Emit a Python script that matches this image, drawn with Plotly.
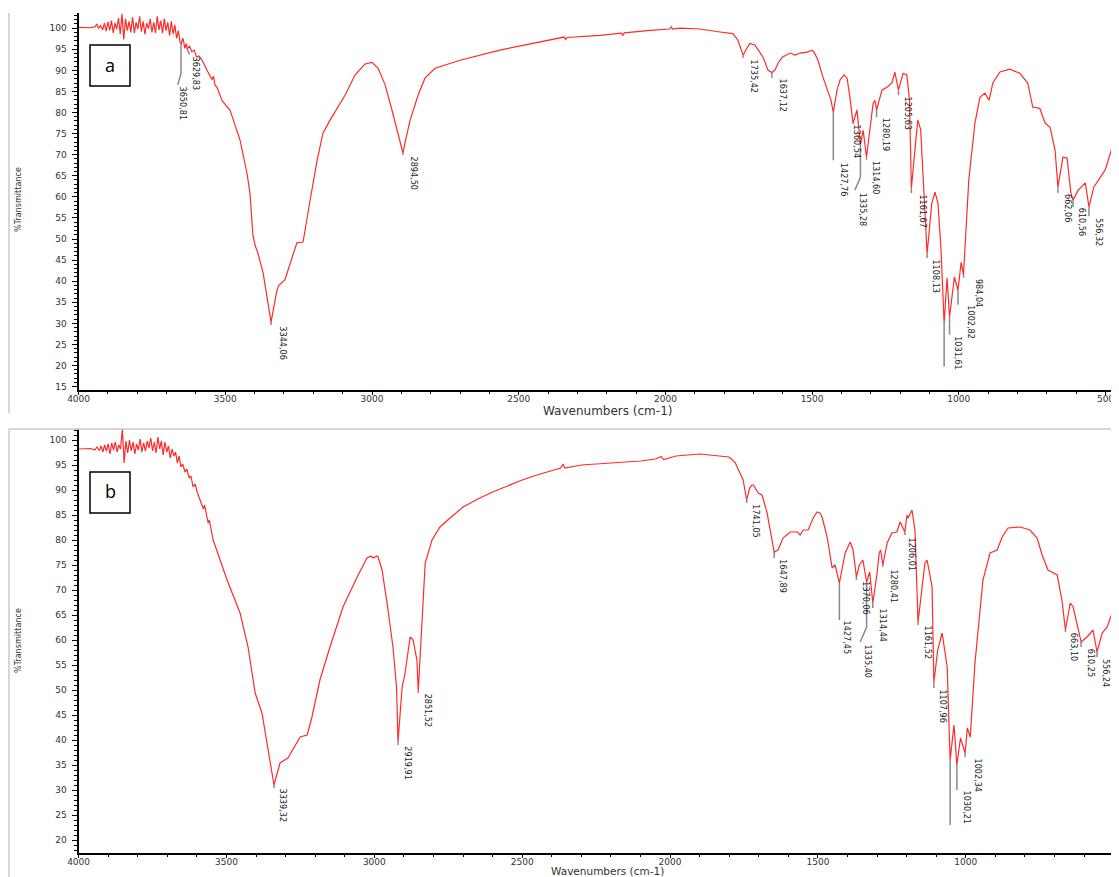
import plotly.graph_objects as go

# ---------------- data: spectrum (a) ----------------
a_wn = [4000, 3980, 3960, 3945, 3938, 3932, 3925, 3918, 3912, 3906, 3900, 3894, 3888, 3882, 3876, 3870,
        3864, 3858, 3852, 3846, 3840, 3834, 3828, 3822, 3816, 3810, 3804, 3798, 3792, 3786, 3780, 3774,
        3768, 3762, 3756, 3750, 3744, 3738, 3732, 3726, 3720, 3714, 3708, 3702, 3696, 3690, 3684, 3678,
        3672, 3666, 3660, 3654, 3650.81, 3644, 3638, 3633, 3629.83, 3622, 3614, 3606, 3598, 3590, 3579,
        3559, 3545, 3540, 3535, 3528, 3511, 3484, 3450, 3426, 3416, 3406, 3398, 3389, 3371, 3344.06, 3324,
        3317, 3297, 3256, 3235, 3211, 3187, 3167, 3143, 3092, 3058, 3024, 3000, 2979, 2955, 2932, 2911,
        2894.5, 2884, 2870, 2843, 2819, 2785, 2700, 2564, 2393, 2345, 2340, 2335, 2223, 2150, 2145, 2140,
        2052, 1985, 1980, 1975, 1950, 1882, 1814, 1770, 1753, 1735.42, 1722, 1712, 1695, 1684, 1667, 1650,
        1637.12, 1627, 1616, 1602, 1575, 1558, 1541, 1517, 1500, 1493, 1480, 1463, 1446, 1436, 1427.76,
        1415, 1405, 1391, 1381, 1371, 1360.54, 1347, 1335.28, 1326, 1314.60, 1298, 1292, 1286, 1280.19,
        1262, 1245, 1228, 1218, 1205.63, 1190, 1177, 1168, 1161.67, 1150, 1140, 1130, 1122, 1108.13, 1092,
        1081, 1071, 1061, 1050, 1040, 1031.61, 1015, 1002.82, 992, 984.04, 966, 945, 928, 911, 897, 884,
        860, 826, 792, 765, 748, 724, 706, 689, 672, 662.06, 645, 631, 618, 610.56, 593, 569, 556.32, 540,
        518, 501, 477, 460, 454]
a_T = [100.2, 100.2, 100.1, 100.3, 100.9, 100.0, 100.6, 99.6, 101.2, 99.3, 101.5, 99.5, 101.8, 98.9, 101.2, 99.8,
       102.4, 98.6, 103.4, 97.3, 102.2, 99.4, 101.6, 99.0, 102.6, 98.8, 101.4, 99.8, 102.8, 99.2, 101.6, 98.6,
       101.2, 99.9, 102.2, 99.0, 101.4, 98.9, 102.8, 99.6, 101.8, 98.8, 102.2, 99.4, 101.4, 98.2, 101.6, 98.6,
       100.8, 97.6, 99.4, 96.6, 96.4, 97.6, 95.2, 96.4, 95.0, 95.8, 94.4, 94.8, 93.2, 93.4, 92.4,
       89.6, 87.8, 88.6, 86.5, 86.0, 82.8, 80.6, 73.5, 65.6, 60.9, 51.0, 48.4, 46.7, 41.9, 30.3, 37.9,
       39.1, 40.3, 49.1, 49.3, 59.2, 68.7, 75.1, 78.2, 84.1, 88.9, 91.5, 91.9, 90.5, 86.5, 80.6, 74.6,
       70.4, 73.9, 78.2, 84.1, 88.2, 90.5, 92.4, 94.8, 97.2, 97.9, 97.3, 97.8, 98.3, 98.8, 98.3, 98.9,
       99.5, 99.8, 100.3, 99.8, 100.0, 99.8, 99.1, 98.7, 97.2, 93.6, 95.3, 96.4, 96.0, 94.8, 93.1, 90.0,
       89.5, 90.0, 91.7, 93.1, 94.1, 93.6, 94.1, 94.3, 94.8, 94.3, 92.4, 88.4, 84.8, 83.0, 80.1,
       85.3, 87.7, 88.9, 88.2, 83.6, 77.5, 80.6, 72.3, 75.8, 69.4, 79.0, 82.2, 82.9, 80.6,
       85.3, 86.0, 87.0, 89.6, 85.3, 89.3, 88.9, 82.9, 62.0, 70.4, 78.2, 76.0, 64.0, 46.5, 58.5,
       61.1, 58.5, 48.0, 30.1, 40.8, 31.5, 41.0, 37.9, 44.5, 41.5, 64.0, 77.5, 83.6, 84.6, 82.9, 87.0,
       89.6, 90.3, 89.3, 87.0, 81.3, 81.0, 77.5, 76.5, 71.1, 62.3, 69.4, 69.2, 60.9, 59.2, 61.6, 63.3, 57.6, 62.3,
       64.7, 66.4, 71.8, 75.1, 74.2]

# ---------------- data: spectrum (b) ----------------
b_wn = [4000, 3980, 3960, 3945, 3938, 3930, 3924, 3918, 3912, 3906, 3900, 3894, 3888, 3882, 3876, 3870,
        3864, 3858, 3852, 3846, 3840, 3834, 3828, 3822, 3816, 3810, 3804, 3798, 3792, 3786, 3780, 3774,
        3768, 3762, 3756, 3750, 3744, 3738, 3732, 3726, 3720, 3714, 3708, 3702, 3696, 3690, 3684, 3678,
        3672, 3666, 3660, 3654, 3648, 3640, 3634, 3626, 3620, 3613, 3606, 3598, 3589, 3578, 3574, 3562,
        3558, 3545, 3498, 3454, 3427, 3403, 3380, 3363, 3339.32, 3319, 3292, 3251, 3227, 3211, 3184, 3150,
        3106, 3058, 3025, 3012, 3004, 2992, 2987, 2974, 2957, 2937, 2925, 2919.91, 2906, 2896, 2879, 2869,
        2856, 2851.52, 2839, 2828, 2805, 2778, 2744, 2700, 2650, 2600, 2550, 2500, 2450, 2400, 2370, 2362,
        2356, 2300, 2200, 2100, 2050, 2030, 2022, 1980, 1900, 1850, 1800, 1780, 1765, 1753, 1741.05, 1730,
        1723, 1718, 1702, 1689, 1672, 1662, 1652, 1647.89, 1635, 1618, 1594, 1570, 1560, 1550, 1533, 1516,
        1503, 1493, 1486, 1469, 1452, 1442, 1427.45, 1408, 1391, 1381, 1370.06, 1360, 1348, 1335.40, 1325,
        1314.44, 1300, 1293, 1288, 1280.41, 1266, 1250, 1233, 1222, 1206.01, 1199, 1195, 1182, 1172, 1166,
        1161.52, 1145, 1138, 1131, 1114, 1107.96, 1095, 1080, 1063, 1053, 1040, 1030.21, 1018, 1002.34, 995,
        985, 969, 942, 918, 894, 877, 857, 816, 783, 759, 742, 722, 691, 675, 663.10, 647, 637, 610.25,
        590, 570, 556.24, 539, 522, 505, 482]
b_T = [98.2, 98.2, 98.3, 98.0, 98.6, 97.9, 98.8, 97.6, 99.0, 97.8, 99.2, 97.2, 99.4, 98.0, 99.6, 97.6,
       99.0, 98.2, 102.2, 95.4, 99.8, 97.4, 100.0, 97.8, 99.6, 97.2, 99.2, 98.0, 100.2, 97.6, 99.4, 97.8,
       99.8, 98.4, 100.4, 97.8, 99.6, 97.4, 100.6, 98.2, 99.8, 97.0, 99.6, 97.6, 98.8, 96.4, 98.2, 96.8,
       97.6, 95.4, 96.8, 94.6, 95.2, 93.6, 94.2, 92.4, 92.8, 90.6, 91.2, 89.4, 88.0, 86.2, 87.0, 83.4,
       84.0, 80.0, 72.0, 65.4, 58.6, 49.4, 45.4, 39.4, 31.0, 35.4, 36.4, 40.6, 41.0, 44.6, 52.0, 58.6,
       66.6, 72.6, 76.4, 76.8, 76.4, 76.8, 76.6, 74.0, 67.4, 58.6, 50.6, 39.6, 50.6, 53.4, 60.6, 60.0,
       56.0, 49.8, 64.0, 75.4, 80.0, 82.6, 84.4, 86.6, 88.2, 89.6, 90.8, 92.0, 93.0, 93.8, 94.4, 95.2,
       94.4, 95.0, 95.4, 95.8, 96.2, 96.7, 96.1, 96.8, 97.2, 96.9, 96.6, 95.5, 93.5, 92.0, 88.0, 90.5,
       91.0, 91.0, 89.4, 89.0, 85.4, 82.0, 78.6, 77.6, 78.0, 80.4, 81.6, 81.6, 81.0, 82.0, 82.0, 84.4,
       85.6, 85.4, 84.6, 80.6, 74.4, 75.0, 71.4, 77.4, 79.6, 78.0, 72.6, 75.0, 76.0, 71.6, 73.6,
       67.4, 73.4, 77.4, 78.0, 75.0, 79.4, 81.4, 81.6, 83.6, 81.6, 85.0, 84.4, 86.0, 82.0, 72.0,
       63.6, 72.0, 75.4, 76.0, 70.6, 51.5, 58.0, 61.4, 54.6, 36.0, 43.0, 35.0, 40.4, 37.4, 42.4,
       40.6, 55.4, 72.0, 77.4, 78.0, 80.6, 82.4, 82.6, 82.0, 80.4, 77.0, 74.0, 73.0, 68.0, 62.0, 67.4, 66.6, 59.6,
       60.6, 62.0, 57.6, 61.4, 62.6, 65.4, 69.4]

# ---------------- peak labels ----------------
a_peak_label = ["3650,81", "3629,83", "3344,06", "2894,50", "1735,42", "1637,12", "1427,76", "1360,54",
                "1335,28", "1314,60", "1280,19", "1205,63", "1161,67", "1108,13", "", "1031,61",
                "1002,82", "984,04", "662,06", "610,56", "556,32"]
a_peak_wn = [3650.81, 3629.83, 3344.06, 2894.50, 1735.42, 1637.12, 1427.76, 1360.54, 1335.28, 1314.60,
             1280.19, 1205.63, 1161.67, 1108.13, 1050, 1031.61, 1002.82, 984.04, 662.06, 610.56, 556.32]
a_peak_T = [96.4, 95.0, 30.3, 70.4, 93.6, 89.5, 80.1, 77.5, 72.3, 69.4, 80.6, 85.3, 62.0, 46.5, 30.1, 31.5,
            37.9, 41.5, 62.3, 59.2, 57.6]

b_peak_label = ["3339,32", "2919,91", "2851,52", "1741,05", "1647,89", "1427,45", "1370,06", "1335,40",
                "1314,44", "1280,41", "1206,01", "1161,52", "1107,96", "", "1030,21", "1002,34",
                "663,10", "610,25", "556,24"]
b_peak_wn = [3339.32, 2919.91, 2851.52, 1741.05, 1647.89, 1427.45, 1370.06, 1335.40, 1314.44, 1280.41,
             1206.01, 1161.52, 1107.96, 1053, 1030.21, 1002.34, 663.10, 610.25, 556.24]
b_peak_T = [31.0, 39.6, 49.8, 88.0, 77.6, 71.4, 72.6, 71.6, 67.4, 75.0, 81.6, 63.6, 51.5, 36.0, 35.0, 37.4,
            62.0, 59.6, 57.6]

x_tick_vals = [4000, 3500, 3000, 2500, 2000, 1500, 1000, 500]

# ---------------- label layout (leader ends / text anchors) ----------------
a_leader = [[(3650.81, 89.3), (3662, 86.6)], [(3622, 93.8)], [(3344.06, 29.6)], [(2894.5, 69.9)],
            [(1735.42, 92.9)], [(1637.12, 88.2)], [(1427.76, 68.7)], [(1360.54, 77.3)],
            [(1335.28, 64.7), (1354, 61.6)], [(1314.60, 68.8)], [(1280.19, 78.9)], [(1205.63, 84.1)],
            [(1161.67, 60.9)], [(1108.13, 45.5)], [(1050, 19.7)], [(1031.61, 27.3)], [(1002.82, 34.4)],
            [(984.04, 40.8)], [(662.06, 60.9)], [(610.56, 57.6)], [(556.32, 55.4)]]
a_text_pos = [(3665, 86.3), (3620, 93.6), (3323, 29.6), (2877, 69.9), (1718, 92.9), (1620, 88.2),
              (1412, 68.2), (1368, 77.3), (1347, 61.1), (1305, 68.8), (1269, 78.9), (1193, 84.1),
              (1142, 60.9), (1098, 45.5), (1050, 19.7), (1023, 27.3), (979, 34.4), (952, 40.8),
              (648, 60.9), (600, 57.6), (542, 55.2)]
b_leader = [[(3339.32, 30.4)], [(2919.91, 39.0)], [(2851.52, 49.4)], [(1741.05, 87.4)], [(1647.89, 76.4)],
            [(1427.45, 64.0)], [(1370.06, 72.0)], [(1335.40, 62.6), (1357, 59.6)], [(1314.44, 66.4)],
            [(1280.41, 74.6)], [(1206.01, 81.0)], [(1161.52, 63.0)], [(1107.96, 50.4)], [(1053, 23.0)],
            [(1030.21, 30.0)], [(1002.34, 36.6)], [(663.10, 61.6)], [(610.25, 58.6)], [(556.24, 56.6)]]
b_text_pos = [(3326, 30.4), (2906, 39.0), (2836, 49.4), (1729, 87.4), (1638, 76.4), (1419, 64.0),
              (1357, 72.0), (1351, 59.4), (1297, 66.4), (1263, 74.4), (1199, 80.6), (1145, 63.0),
              (1097, 50.4), (1053, 23.0), (1013, 30.0), (979, 36.6), (654, 61.6), (596, 58.4), (546, 56.4)]

# page body adds an 8px margin; figure is sized to fill the rest of the window
OFF = 8
W, H = 1119 - OFF, 877 - OFF


def pxx(x):
    return (x - OFF) / W


def pyy(y):
    return 1 - (y - OFF) / H


RED = "#ff2b2b"
GRAY = "#8a8a8a"
LBL_FONT = dict(family="Liberation Sans Narrow, DejaVu Sans Condensed, Arial Narrow, sans-serif", size=9, color="#222222")
TICK_FONT = dict(family="DejaVu Sans, Verdana, sans-serif", size=9, color="#333333")
TITLE_FONT = dict(family="DejaVu Sans, Verdana, sans-serif", size=12, color="#333333")
TITLE_FONT_B = dict(family="DejaVu Sans, Verdana, sans-serif", size=10.5, color="#333333")

fig = go.Figure()


def leader_trace(peak_wn, peak_T, leaders, xa, ya):
    xs, ys = [], []
    for w, t, pts in zip(peak_wn, peak_T, leaders):
        xs.append(w)
        ys.append(t)
        for (lw, lt) in pts:
            xs.append(lw)
            ys.append(lt)
        xs.append(None)
        ys.append(None)
    return go.Scatter(x=xs, y=ys, mode="lines", line=dict(color=GRAY, width=1.5),
                      xaxis=xa, yaxis=ya, hoverinfo="skip", showlegend=False)


fig.add_trace(leader_trace(a_peak_wn, a_peak_T, a_leader, "x", "y"))
fig.add_trace(leader_trace(b_peak_wn, b_peak_T, b_leader, "x2", "y2"))
fig.add_trace(go.Scatter(x=a_wn, y=a_T, mode="lines", line=dict(color=RED, width=1.2),
                         xaxis="x", yaxis="y", hoverinfo="skip", showlegend=False))
fig.add_trace(go.Scatter(x=b_wn, y=b_T, mode="lines", line=dict(color=RED, width=1.2),
                         xaxis="x2", yaxis="y2", hoverinfo="skip", showlegend=False))

annotations = []
for lab, (tw, tt) in zip(a_peak_label, a_text_pos):
    if lab:
        annotations.append(dict(x=tw, y=tt, xref="x", yref="y", text=lab, textangle=90, showarrow=False,
                                xanchor="left", yanchor="top", font=LBL_FONT, borderpad=0))
for lab, (tw, tt) in zip(b_peak_label, b_text_pos):
    if lab:
        annotations.append(dict(x=tw, y=tt, xref="x2", yref="y2", text=lab, textangle=90, showarrow=False,
                                xanchor="left", yanchor="top", font=LBL_FONT, borderpad=0))

# axis titles
for ycen in (200, 641):
    annotations.append(dict(x=pxx(18), y=pyy(ycen), xref="paper", yref="paper", text="%Transmittance",
                            textangle=-90, showarrow=False, xanchor="center", yanchor="middle",
                            font=dict(family="Liberation Sans Narrow, DejaVu Sans Condensed, sans-serif",
                                      size=9, color="#333333")))
annotations.append(dict(x=pxx(607), y=pyy(403), xref="paper", yref="paper", text="Wavenumbers (cm-1)",
                        showarrow=False, xanchor="center", yanchor="top", borderpad=0, font=TITLE_FONT))
annotations.append(dict(x=pxx(607), y=0, xref="paper", yref="paper", text="Wavenumbers (cm-1)",
                        showarrow=False, xanchor="center", yanchor="bottom", borderpad=0, yshift=-1,
                        font=TITLE_FONT_B))
# panel letters
annotations.append(dict(x=pxx(110), y=pyy(65), xref="paper", yref="paper", text="a", showarrow=False,
                        xanchor="center", yanchor="middle",
                        font=dict(family="Open Sans, Liberation Sans, sans-serif", size=18, color="black")))
annotations.append(dict(x=pxx(110), y=pyy(491), xref="paper", yref="paper", text="b", showarrow=False,
                        xanchor="center", yanchor="middle",
                        font=dict(family="Open Sans, Liberation Sans, sans-serif", size=18, color="black")))

shapes = [
    dict(type="line", xref="paper", yref="paper", x0=pxx(9), x1=pxx(9), y0=pyy(13), y1=pyy(413),
         line=dict(color="#c8c8c8", width=1.5)),
    dict(type="line", xref="paper", yref="paper", x0=pxx(9), x1=1, y0=pyy(429), y1=pyy(429),
         line=dict(color="#c8c8c8", width=1.5)),
    dict(type="line", xref="paper", yref="paper", x0=pxx(9), x1=pxx(9), y0=pyy(429), y1=0,
         line=dict(color="#c8c8c8", width=1.5)),
    dict(type="rect", xref="paper", yref="paper", x0=pxx(90), x1=pxx(130), y0=pyy(86), y1=pyy(45),
         line=dict(color="black", width=1.5), fillcolor="white"),
    dict(type="rect", xref="paper", yref="paper", x0=pxx(90), x1=pxx(130), y0=pyy(513), y1=pyy(472),
         line=dict(color="black", width=1.5), fillcolor="white"),
]


def xax(rng, standoff):
    return dict(domain=[pxx(78.6), 1], range=rng, showline=True, linecolor="black", linewidth=2,
                ticks="outside", ticklen=3, tickcolor="black", tickvals=x_tick_vals,
                minor=dict(ticks="outside", ticklen=2, dtick=100, tickcolor="black"),
                ticklabelstandoff=standoff,
                tickfont=TICK_FONT, showgrid=False, zeroline=False, fixedrange=True, automargin=False)


def yax(rng, dom):
    return dict(domain=dom, range=rng, showline=True, linecolor="black", linewidth=2,
                ticks="outside", ticklen=5, tickcolor="black", tick0=15, dtick=5,
                minor=dict(ticks="outside", ticklen=3, dtick=1, tickcolor="black"),
                ticklabelstandoff=3,
                tickfont=TICK_FONT, showgrid=False, zeroline=False, fixedrange=True, automargin=False)


fig.update_layout(
    width=W, height=H, margin=dict(l=0, r=0, t=0, b=0, autoexpand=False),
    paper_bgcolor="white", plot_bgcolor="white", showlegend=False,
    xaxis=dict(xax([4000, 454], -4), anchor="y"),
    yaxis=dict(yax([14.2, 103.6], [pyy(390), pyy(13)]), anchor="x"),
    xaxis2=dict(xax([4000, 482], -4), anchor="y2"),
    yaxis2=dict(yax([17.4, 102.2], [pyy(853), pyy(429)]), anchor="x2"),
    annotations=annotations, shapes=shapes,
)

fig.write_html("out.html")
